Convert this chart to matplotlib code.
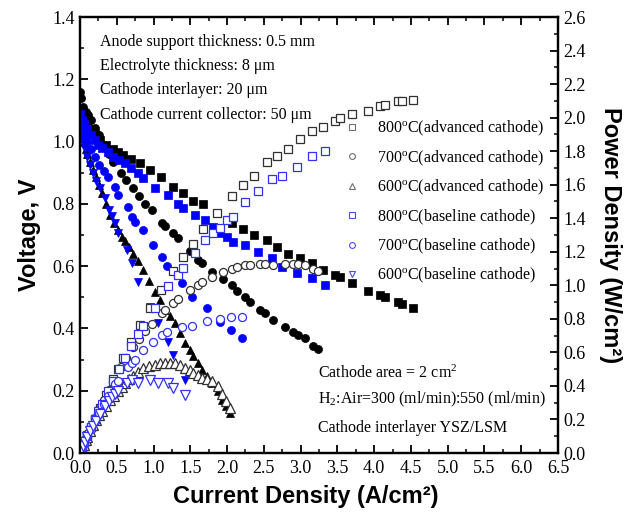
import matplotlib
matplotlib.use("Agg")
import matplotlib.pyplot as plt
from matplotlib.ticker import MultipleLocator
from matplotlib.lines import Line2D

plt.rcParams['font.family'] = ['Liberation Serif', 'DejaVu Serif']
plt.rcParams['mathtext.fontset'] = 'custom'
plt.rcParams['mathtext.rm'] = 'Liberation Serif'
plt.rcParams['mathtext.it'] = 'Liberation Serif:italic'
plt.rcParams['mathtext.bf'] = 'Liberation Serif:bold'

# ---------------- data ----------------
# 800 C advanced cathode
I_800a = [0.0, 0.03, 0.06, 0.10, 0.15, 0.20, 0.27, 0.35, 0.45, 0.52, 0.59, 0.70, 0.82, 0.95, 1.10, 1.27,
          1.40, 1.54, 1.67, 1.86, 2.07, 2.22, 2.36, 2.54, 2.68, 2.83, 2.99, 3.15, 3.31, 3.47, 3.54, 3.70,
          3.92, 4.08, 4.15, 4.33, 4.38, 4.53]
V_800a = [1.08, 1.07, 1.06, 1.05, 1.04, 1.025, 1.005, 0.99, 0.975, 0.965, 0.957, 0.945, 0.93, 0.91, 0.885,
          0.855, 0.835, 0.81, 0.80, 0.77, 0.74, 0.72, 0.70, 0.684, 0.66, 0.64, 0.626, 0.61, 0.587, 0.57,
          0.565, 0.546, 0.52, 0.507, 0.50, 0.485, 0.48, 0.465]
P_800a = [0.0, 0.032, 0.064, 0.105, 0.156, 0.205, 0.271, 0.347, 0.439, 0.502, 0.565, 0.662, 0.763, 0.865,
          0.974, 1.086, 1.169, 1.247, 1.336, 1.432, 1.532, 1.598, 1.652, 1.737, 1.769, 1.811, 1.872, 1.922,
          1.943, 1.978, 2.000, 2.020, 2.038, 2.069, 2.075, 2.100, 2.102, 2.106]

# 700 C advanced cathode
I_700a = [0.0, 0.02, 0.04, 0.08, 0.11, 0.15, 0.20, 0.26, 0.32, 0.39, 0.45, 0.56, 0.63, 0.72, 0.80, 0.88,
          0.98, 1.12, 1.16, 1.27, 1.33, 1.50, 1.60, 1.66, 1.80, 1.95, 2.07, 2.13, 2.24, 2.31, 2.45, 2.52,
          2.63, 2.79, 2.90, 2.97, 3.06, 3.17, 3.24]
V_700a = [1.16, 1.14, 1.11, 1.095, 1.085, 1.07, 1.045, 1.02, 0.99, 0.96, 0.935, 0.90, 0.877, 0.85, 0.825,
          0.80, 0.78, 0.74, 0.73, 0.705, 0.69, 0.65, 0.62, 0.61, 0.58, 0.56, 0.54, 0.52, 0.50, 0.485, 0.46,
          0.45, 0.427, 0.405, 0.39, 0.38, 0.37, 0.345, 0.335]
P_700a = [0.0, 0.023, 0.044, 0.088, 0.119, 0.161, 0.209, 0.265, 0.317, 0.374, 0.421, 0.51, 0.565, 0.63,
          0.68, 0.725, 0.77, 0.835, 0.85, 0.895, 0.92, 0.975, 1.0, 1.02, 1.05, 1.08, 1.10, 1.108, 1.12,
          1.12, 1.127, 1.13, 1.123, 1.13, 1.13, 1.125, 1.12, 1.10, 1.085]

# 600 C advanced cathode
I_600a = [0.0, 0.02, 0.05, 0.08, 0.10, 0.14, 0.18, 0.22, 0.26, 0.30, 0.35, 0.41, 0.46, 0.52, 0.57, 0.61,
          0.67, 0.72, 0.79, 0.86, 0.94, 1.02, 1.09, 1.16, 1.22, 1.29, 1.36, 1.43, 1.49, 1.54, 1.60, 1.66,
          1.73, 1.80, 1.87, 1.93, 1.99, 2.04]
V_600a = [1.05, 1.03, 1.0, 0.975, 0.96, 0.935, 0.91, 0.885, 0.86, 0.835, 0.80, 0.765, 0.74, 0.716, 0.695,
          0.68, 0.66, 0.64, 0.615, 0.588, 0.553, 0.517, 0.49, 0.46, 0.44, 0.417, 0.385, 0.353, 0.33, 0.31,
          0.29, 0.267, 0.248, 0.225, 0.20, 0.17, 0.15, 0.128]
P_600a = [0.0, 0.021, 0.050, 0.078, 0.096, 0.131, 0.164, 0.195, 0.224, 0.251, 0.280, 0.314, 0.340, 0.372,
          0.396, 0.415, 0.442, 0.461, 0.486, 0.506, 0.520, 0.527, 0.534, 0.534, 0.537, 0.538, 0.524, 0.505,
          0.492, 0.477, 0.464, 0.45, 0.44, 0.43, 0.40, 0.35, 0.31, 0.27]

# 800 C baseline cathode
I_800b = [0.0, 0.03, 0.06, 0.10, 0.15, 0.20, 0.25, 0.30, 0.38, 0.45, 0.53, 0.61, 0.70, 0.79, 0.86, 1.02,
          1.20, 1.33, 1.40, 1.56, 1.70, 1.81, 1.90, 2.00, 2.08, 2.24, 2.42, 2.61, 2.75, 2.95, 3.15, 3.33]
V_800b = [1.09, 1.07, 1.055, 1.04, 1.02, 1.005, 0.99, 0.98, 0.965, 0.95, 0.94, 0.93, 0.915, 0.90, 0.883,
          0.85, 0.83, 0.80, 0.787, 0.764, 0.748, 0.726, 0.706, 0.694, 0.678, 0.668, 0.645, 0.626, 0.597,
          0.578, 0.562, 0.54]
P_800b = [0.0, 0.032, 0.063, 0.104, 0.153, 0.201, 0.248, 0.294, 0.367, 0.428, 0.498, 0.567, 0.641, 0.711,
          0.759, 0.867, 0.996, 1.064, 1.102, 1.192, 1.272, 1.314, 1.341, 1.388, 1.410, 1.496, 1.561, 1.634,
          1.652, 1.705, 1.770, 1.798]

# 700 C baseline cathode
I_700b = [0.0, 0.03, 0.06, 0.10, 0.15, 0.20, 0.26, 0.32, 0.38, 0.48, 0.52, 0.65, 0.71, 0.75, 0.86, 0.99,
          1.12, 1.18, 1.39, 1.52, 1.73, 1.90, 2.06, 2.20]
V_700b = [1.07, 1.04, 1.02, 1.0, 0.975, 0.95, 0.925, 0.905, 0.886, 0.855, 0.83, 0.79, 0.758, 0.742, 0.716,
          0.668, 0.63, 0.60, 0.546, 0.50, 0.466, 0.42, 0.395, 0.37]
P_700b = [0.0, 0.031, 0.061, 0.10, 0.146, 0.19, 0.241, 0.290, 0.337, 0.410, 0.432, 0.514, 0.538, 0.557,
          0.616, 0.661, 0.706, 0.72, 0.75, 0.76, 0.79, 0.80, 0.81, 0.81]

# 600 C baseline cathode
I_600b = [0.0, 0.02, 0.04, 0.07, 0.10, 0.14, 0.18, 0.22, 0.27, 0.34, 0.40, 0.44, 0.48, 0.52, 0.64, 0.71,
          0.79, 0.95, 1.06, 1.20, 1.27, 1.43]
V_600b = [1.05, 1.02, 1.0, 0.975, 0.95, 0.925, 0.90, 0.875, 0.85, 0.82, 0.78, 0.76, 0.738, 0.706, 0.652,
          0.61, 0.55, 0.47, 0.417, 0.356, 0.315, 0.235]
P_600b = [0.0, 0.02, 0.04, 0.068, 0.095, 0.13, 0.162, 0.193, 0.23, 0.279, 0.312, 0.334, 0.354, 0.367,
          0.417, 0.433, 0.42, 0.435, 0.42, 0.415, 0.39, 0.345]

legend_labels = ["800$^{\\rm o}$C(advanced cathode)", "700$^{\\rm o}$C(advanced cathode)",
                 "600$^{\\rm o}$C(advanced cathode)", "800$^{\\rm o}$C(baseline cathode)",
                 "700$^{\\rm o}$C(baseline cathode)", "600$^{\\rm o}$C(baseline cathode)"]

notes_top = ["Anode support thickness: 0.5 mm", "Electrolyte thickness: 8 \u03bcm",
             "Cathode interlayer: 20 \u03bcm", "Cathode current collector: 50 \u03bcm"]
notes_bottom = ["Cathode area = 2 cm$^2$", "H$_2$:Air=300 (ml/min):550 (ml/min)",
                "Cathode interlayer YSZ/LSM"]

# ---------------- figure ----------------
W, H = 631, 516
fig = plt.figure(figsize=(W / 100, H / 100), dpi=100)
ax = fig.add_axes([80 / W, 1 - 453 / H, (558 - 80) / W, (453 - 17) / H])
ax2 = ax.twinx()

BLK_OPEN = '#303030'
BLU_OPEN = '#3030ff'
BLUE = '#0000ff'

series = [
    (I_800a, V_800a, P_800a, 's', 'black', BLK_OPEN, 5.4, 5.8),
    (I_700a, V_700a, P_700a, 'o', 'black', BLK_OPEN, 5.8, 5.8),
    (I_600a, V_600a, P_600a, '^', 'black', BLK_OPEN, 6.3, 6.5),
    (I_800b, V_800b, P_800b, 's', BLUE, BLU_OPEN, 5.4, 5.8),
    (I_700b, V_700b, P_700b, 'o', BLUE, BLU_OPEN, 5.8, 5.8),
    (I_600b, V_600b, P_600b, 'v', BLUE, BLU_OPEN, 6.3, 6.5),
]

for I, V, P, mk, fc, oc, ms_f, ms_o in series:
    ax.plot(I, V, linestyle='none', marker=mk, markersize=ms_f, markerfacecolor=fc,
            markeredgecolor=fc, markeredgewidth=0.5)
    ax2.plot(I, P, linestyle='none', marker=mk, markersize=ms_o, markerfacecolor='white',
             markeredgecolor=oc, markeredgewidth=0.9)

ax.set_xlim(0, 6.5)
ax.set_ylim(0, 1.4)
ax2.set_ylim(0, 2.6)

ax.xaxis.set_major_locator(MultipleLocator(0.5))
ax.xaxis.set_minor_locator(MultipleLocator(0.25))
ax.yaxis.set_major_locator(MultipleLocator(0.2))
ax.yaxis.set_minor_locator(MultipleLocator(0.1))
ax2.yaxis.set_major_locator(MultipleLocator(0.2))
ax2.yaxis.set_minor_locator(MultipleLocator(0.1))

ax.xaxis.set_major_formatter(matplotlib.ticker.FormatStrFormatter('%.1f'))
ax.yaxis.set_major_formatter(matplotlib.ticker.FormatStrFormatter('%.1f'))
ax2.yaxis.set_major_formatter(matplotlib.ticker.FormatStrFormatter('%.1f'))

ax.tick_params(axis='x', which='both', direction='in', top=True, bottom=True, labelsize=13, pad=5)
ax.tick_params(axis='y', which='both', direction='in', left=True, right=False, labelsize=13, pad=4)
ax.tick_params(which='major', length=5.5, width=1.3)
ax.tick_params(which='minor', length=3, width=1.1)
ax2.tick_params(axis='y', which='both', direction='in', labelsize=13, pad=4)
ax2.tick_params(which='major', length=5.5, width=1.3)
ax2.tick_params(which='minor', length=3, width=1.1)

for a in (ax, ax2):
    for s in a.spines.values():
        s.set_linewidth(1.6)

lab_font = dict(family='Liberation Sans', weight='bold', size=17)
ax.set_xlabel("Current Density (A/cm\u00b2)", fontdict=lab_font)
ax.xaxis.set_label_coords(0.472, -0.073)
ax.set_ylabel("Voltage, V", fontdict=lab_font, labelpad=8)
ax2.set_ylabel("Power Density (W/cm\u00b2)", fontdict=lab_font, rotation=270, labelpad=26)

# legend (open symbols, as in the original)
handles = []
for (I, V, P, mk, fc, oc, ms_f, ms_o), lab in zip(series, legend_labels):
    lc = '#707070' if fc == 'black' else '#4a4aff'
    handles.append(Line2D([], [], linestyle='none', marker=mk, markersize=4.2,
                          markerfacecolor='white', markeredgecolor=lc, markeredgewidth=0.8, label=lab))
ax2.legend(handles=handles, loc='upper left', bbox_to_anchor=(340 / W, 1 - 119 / H),
           bbox_transform=fig.transFigure, frameon=False, fontsize=11.5, borderpad=0,
           borderaxespad=0, handlelength=1.5, handletextpad=0.8, labelspacing=0.64)

for txt, yc in zip(notes_top, [42, 66, 90, 115]):
    fig.text(100 / W, 1 - yc / H, txt, fontsize=11.5, va='center', ha='left')
for txt, yc in zip(notes_bottom, [373, 399, 428]):
    fig.text(318 / W, 1 - yc / H, txt, fontsize=11.5, va='center', ha='left')

fig.savefig("out.png", dpi=100)
